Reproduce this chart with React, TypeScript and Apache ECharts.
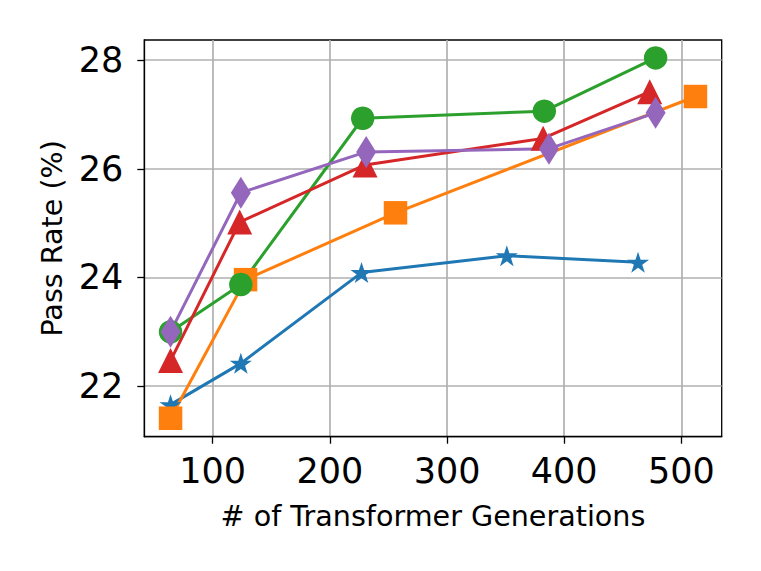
import React, { useEffect, useRef } from "react";
import * as echarts from "echarts";

const xTicks = [100, 200, 300, 400, 500];
const yTicks = [22, 24, 26, 28];

const blueX = [64, 124, 227, 351, 463];
const blueY = [21.66, 22.42, 24.09, 24.4, 24.28];
const orangeX = [64, 128, 256, 512];
const orangeY = [21.41, 23.96, 25.19, 27.33];
const greenX = [64, 124, 228, 383, 478];
const greenY = [23.0, 23.87, 26.93, 27.06, 28.04];
const redX = [64, 123, 230, 382, 473];
const redY = [22.47, 25.02, 26.07, 26.56, 27.42];
const purpleX = [64, 124, 231, 387, 478];
const purpleY = [23.0, 25.56, 26.31, 26.37, 27.03];

function starPath(): string {
  const pts: string[] = [];
  for (let k = 0; k < 10; k++) {
    const a = (-90 + k * 36) * (Math.PI / 180);
    const r = k % 2 === 0 ? 1 : 0.381966;
    pts.push((r * Math.cos(a)).toFixed(4) + " " + (r * Math.sin(a)).toFixed(4));
  }
  return "path://M" + pts.join(" L") + " Z";
}

const zip = (xs: number[], ys: number[]) => xs.map((x, i) => [x, ys[i]]);

export default function App() {
  const ref = useRef<HTMLDivElement>(null);
  useEffect(() => {
    if (!ref.current) return;
    const chart = echarts.init(ref.current, null, { renderer: "svg" });
    const font = "DejaVu Sans";
    const mk = (
      name: string,
      xs: number[],
      ys: number[],
      color: string,
      symbol: string,
      size: number | number[]
    ) => ({
      name,
      type: "line",
      data: zip(xs, ys),
      symbol,
      symbolSize: size,
      showAllSymbol: true,
      lineStyle: { color, width: 3 },
      itemStyle: { color, borderWidth: 0 },
      emphasis: { disabled: true },
    });
    chart.setOption({
      animation: false,
      grid: {
        left: 144.3,
        right: 39.3,
        top: 40,
        bottom: 134.3,
        show: true,
        borderColor: "#000",
        borderWidth: 1.3,
        backgroundColor: "transparent",
      },
      xAxis: {
        type: "value",
        min: 41.6,
        max: 534.4,
        minInterval: 100,
        maxInterval: 100,
        name: "# of Transformer Generations",
        nameLocation: "middle",
        nameGap: 65,
        nameTextStyle: { fontFamily: font, fontSize: 28.6, color: "#000" },
        axisLine: { show: true, onZero: false, lineStyle: { color: "#000", width: 1.3 } },
        axisTick: {
          show: true,
          inside: false,
          length: 7,
          customValues: xTicks,
          lineStyle: { color: "#000", width: 1.3 },
        },
        axisLabel: {
          customValues: xTicks,
          margin: 17,
          fontFamily: font,
          fontSize: 35,
          color: "#000",
        },
        splitLine: { show: true, lineStyle: { color: "#b0b0b0", width: 1.7 } },
      },
      yAxis: {
        type: "value",
        min: 21.07,
        max: 28.37,
        minInterval: 2,
        maxInterval: 2,
        name: "Pass Rate (%)",
        nameLocation: "middle",
        nameGap: 78,
        nameRotate: 90,
        nameTextStyle: { fontFamily: font, fontSize: 28.6, color: "#000" },
        axisLine: { show: true, onZero: false, lineStyle: { color: "#000", width: 1.3 } },
        axisTick: {
          show: true,
          inside: false,
          length: 7,
          customValues: yTicks,
          lineStyle: { color: "#000", width: 1.3 },
        },
        axisLabel: {
          customValues: yTicks,
          margin: 21,
          fontFamily: font,
          fontSize: 35,
          color: "#000",
        },
        splitLine: { show: true, lineStyle: { color: "#b0b0b0", width: 1.7 } },
      },
      series: [
        mk("Series A", blueX, blueY, "#1f77b4", starPath(), [22, 21]),
        mk("Series B", orangeX, orangeY, "#ff7f0e", "rect", 23.5),
        mk("Series C", greenX, greenY, "#2ca02c", "circle", 23.5),
        mk("Series D", redX, redY, "#d62728", "triangle", [25, 25]),
        mk("Series E", purpleX, purpleY, "#9467bd", "diamond", [20, 32]),
      ],
    });
    return () => chart.dispose();
  }, []);
  return (
    <div
      ref={ref}
      style={{ position: "absolute", left: 0, top: 0, width: 761, height: 571 }}
    />
  );
}
